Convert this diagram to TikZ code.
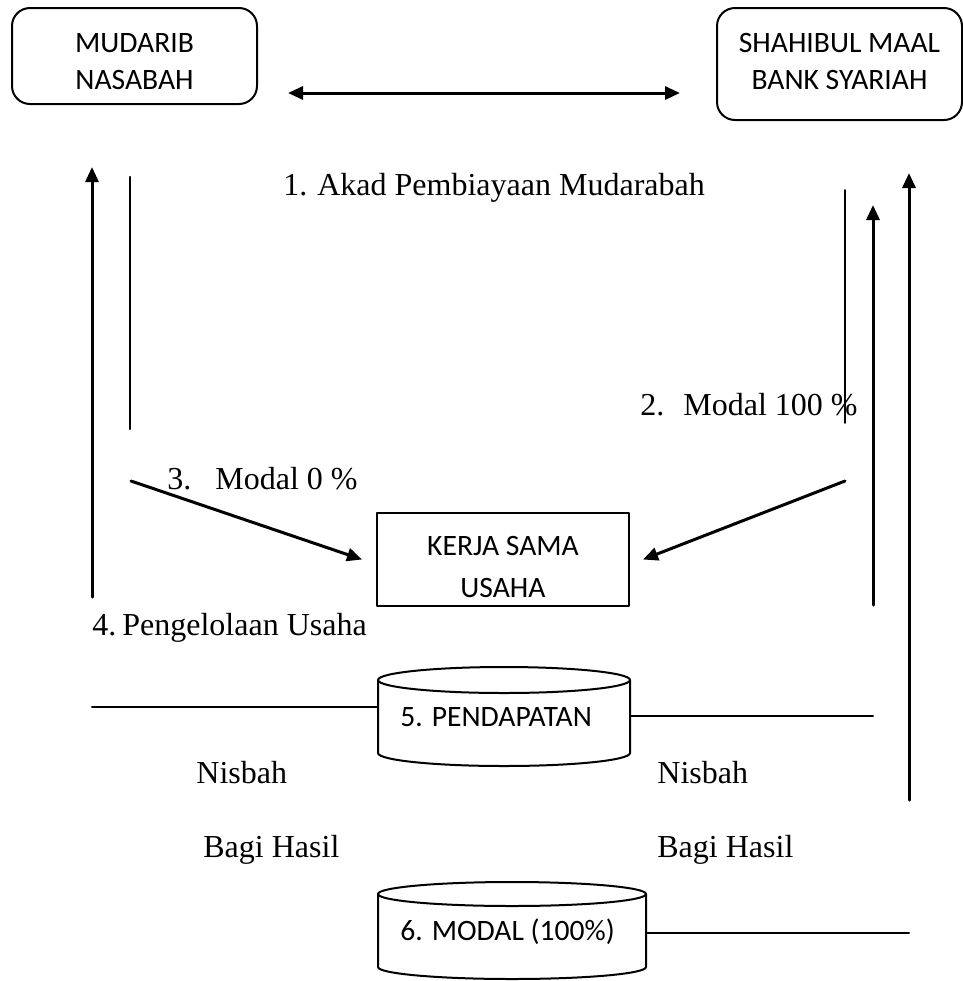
\documentclass[tikz,border=0pt]{standalone}
\usepackage{fontspec}
\setmainfont{Liberation Serif}
\newfontfamily\boxfont{Carlito}
\usetikzlibrary{arrows.meta, positioning, calc}
\tikzset{every path/.style={line cap=round, line join=round}, >={Triangle[length=7.5pt, width=6.5pt]}}

\begin{document}
\begin{tikzpicture}[
    x=0.5pt, y=-0.5pt,
    party/.style={
        draw,
        line width=1pt,
        rounded corners=9pt,
        minimum width=122.5pt,
        inner sep=2pt,
        align=center,
        font=\boxfont\fontsize{14.8}{18.5}\selectfont
    },
    usaha/.style={
        draw,
        line width=1pt,
        minimum width=126pt,
        minimum height=46.5pt,
        inner sep=2pt,
        align=center,
        font=\boxfont\fontsize{14.8}{20.75}\selectfont
    },
    drumtext/.style={
        anchor=west,
        inner sep=0pt,
        font=\boxfont\fontsize{14.8}{17}\selectfont
    },
    drum/.style={
        line width=1pt
    },
    label/.style={
        anchor=base west,
        inner sep=0pt,
        font=\fontsize{16}{19}\selectfont
    },
    arrow/.style={
        ->,
        line width=1.5pt
    },
    flow/.style={
        line width=1pt
    }
]
\useasboundingbox (0,0) rectangle (963,981);

\node[party, minimum height=48pt, text height=37.5pt, text depth=4pt] (mudarib) at (134.5,56) {MUDARIB\\NASABAH};
\node[party, minimum height=56pt, text height=29.5pt, text depth=4pt] (shahibul) at (839.5,64) {SHAHIBUL MAAL\\BANK SYARIAH};
\node[usaha, text height=39.5pt, text depth=2pt] (kerja) at (503,559.5) {KERJA SAMA\\USAHA};

% labels
\node[label] (akad) at (283,195) {1.\hspace{5pt}Akad Pembiayaan Mudarabah};
\node[label] (m100) at (640,415) {2.\hspace{9.5pt}Modal 100 \%};
\node[label] (m0) at (167,489) {3.\hspace{12pt}Modal 0 \%};
\node[label] (kelola) at (92,635) {4.\hspace{3pt}Pengelolaan Usaha};
\node[label] (nisbahL) at (196,783) {Nisbah};
\node[label] (nisbahR) at (657,783) {Nisbah};
\node[label] (bagiL) at (203,857) {Bagi Hasil};
\node[label] (bagiR) at (657,857) {Bagi Hasil};

% drums
\draw[drum] (378,680) -- (378,753) arc[start angle=180, end angle=360, x radius=63pt, y radius=6.5pt] -- (630,680);
\draw[drum] (504,680) ellipse[x radius=63pt, y radius=6.5pt];
\node[drumtext] (pend) at (400,717) {5. PENDAPATAN};

\draw[drum] (378,894) -- (378,967) arc[start angle=180, end angle=360, x radius=67pt, y radius=6pt] -- (646,894);
\draw[drum] (512,894) ellipse[x radius=67pt, y radius=6pt];
\node[drumtext] (modal) at (400,932) {6. MODAL (100\%)};

% free ends
\coordinate (akadL) at (288,93);
\coordinate (akadR) at (680,93);
\coordinate (nasL0) at (92,597);
\coordinate (nasL1) at (92,167);
\coordinate (nasT0) at (130,177);
\coordinate (nasT1) at (130,429);
\coordinate (nasD) at (131,481);
\coordinate (bankT0) at (845,190);
\coordinate (bankT1) at (845,423);
\coordinate (bankD) at (845,481);
\coordinate (bankA0) at (873,605);
\coordinate (bankA1) at (873,205);
\coordinate (bankB0) at (909,800);
\coordinate (bankB1) at (909,173);
\coordinate (pendL) at (92,707);
\coordinate (pendL1) at (378,707);
\coordinate (pendR) at (630,716);
\coordinate (pendR1) at (873,716);
\coordinate (modalR) at (646,933);
\coordinate (modalR1) at (909,933);

\draw[arrow, <->] (akadL) -- (akadR);
\draw[arrow] (nasL0) -- (nasL1);
\draw[line width=1.1pt] (nasT0) -- (nasT1);
\draw[arrow] (nasD) -- ([xshift=-7pt]kerja.west);
\draw[line width=0.8pt] (bankT0) -- (bankT1);
\draw[arrow] (bankD) -- ([xshift=6.5pt]kerja.east);
\draw[arrow] (bankA0) -- (bankA1);
\draw[arrow] (bankB0) -- (bankB1);
\draw[flow] (pendL) -- (pendL1);
\draw[flow] (pendR) -- (pendR1);
\draw[flow] (modalR) -- (modalR1);

\end{tikzpicture}
\end{document}
